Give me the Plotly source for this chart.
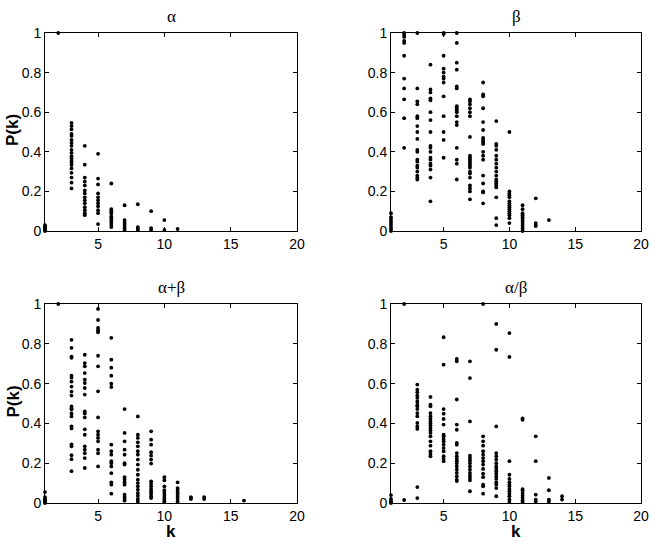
import plotly.graph_objects as go

# P(k) values, one list per k (k = 1, 2, 3, ...)
alpha = [
    [0, 0.005, 0.01, 0.015, 0.02, 0.025, 0.03],
    [1.0],
    [0.546, 0.53, 0.513, 0.49, 0.48, 0.46, 0.445, 0.43, 0.41, 0.395, 0.378, 0.366,
     0.355, 0.345, 0.333, 0.316, 0.294, 0.27, 0.244, 0.215],
    [0.43, 0.335, 0.27, 0.25, 0.23, 0.205, 0.19, 0.17, 0.155, 0.14, 0.12, 0.105, 0.09, 0.08],
    [0.39, 0.265, 0.235, 0.19, 0.17, 0.155, 0.14, 0.125, 0.105, 0.09, 0.035],
    [0.24, 0.11, 0.1, 0.09, 0.075, 0.065, 0.052, 0.042, 0.03, 0.02],
    [0.13, 0.055, 0.045, 0.035, 0.025, 0.015, 0.005],
    [0.135, 0.02, 0.01, 0.005],
    [0.1, 0.015, 0.005],
    [0.055, 0.005],
    [0.01],
]

beta = [
    [0.09, 0.07, 0.06, 0.05, 0.04, 0.03, 0.02, 0.01, 0],
    [1.0, 0.99, 0.98, 0.96, 0.95, 0.885, 0.77, 0.72, 0.665, 0.57, 0.42],
    [1.0, 0.72, 0.655, 0.64, 0.58, 0.57, 0.53, 0.5, 0.465, 0.41, 0.4, 0.36, 0.35,
     0.33, 0.32, 0.3, 0.28, 0.27, 0.26],
    [0.84, 0.715, 0.7, 0.67, 0.66, 0.6, 0.56, 0.5, 0.43, 0.42, 0.4, 0.37, 0.36,
     0.34, 0.33, 0.31, 0.27, 0.15],
    [1.0, 0.995, 0.885, 0.82, 0.8, 0.78, 0.77, 0.75, 0.68, 0.58, 0.5, 0.46, 0.37],
    [1.0, 0.95, 0.85, 0.815, 0.73, 0.72, 0.63, 0.62, 0.61, 0.6, 0.58, 0.55, 0.535,
     0.42, 0.36, 0.34, 0.26],
    [0.665, 0.655, 0.64, 0.62, 0.6, 0.58, 0.475, 0.38, 0.37, 0.36, 0.35, 0.34, 0.33,
     0.32, 0.3, 0.29, 0.27, 0.23, 0.215, 0.2, 0.16],
    [0.75, 0.69, 0.68, 0.62, 0.55, 0.51, 0.47, 0.46, 0.45, 0.44, 0.4, 0.38, 0.36,
     0.28, 0.24, 0.2, 0.195, 0.14],
    [0.555, 0.44, 0.43, 0.41, 0.38, 0.36, 0.34, 0.32, 0.3, 0.28, 0.26, 0.25, 0.24,
     0.23, 0.22, 0.17, 0.065, 0.03],
    [0.5, 0.2, 0.19, 0.18, 0.17, 0.15, 0.14, 0.13, 0.12, 0.11, 0.1, 0.09, 0.08, 0.065, 0.04],
    [0.13, 0.11, 0.09, 0.08, 0.07, 0.06, 0.05, 0.04, 0.03, 0.02, 0.01, 0],
    [0.165, 0.04, 0.03, 0.025],
    [0.055],
]

alpha_plus_beta = [
    [0.055, 0.03, 0.02, 0.015, 0.01, 0.005, 0],
    [1.0],
    [0.82, 0.78, 0.735, 0.73, 0.64, 0.63, 0.61, 0.585, 0.56, 0.54, 0.485, 0.475,
     0.47, 0.45, 0.435, 0.385, 0.375, 0.295, 0.285, 0.24, 0.22, 0.16],
    [0.745, 0.703, 0.687, 0.653, 0.62, 0.603, 0.578, 0.545, 0.46, 0.45, 0.43, 0.37,
     0.343, 0.285, 0.268, 0.25, 0.226, 0.176],
    [0.975, 0.92, 0.88, 0.868, 0.858, 0.74, 0.687, 0.561, 0.43, 0.36, 0.343, 0.327,
     0.31, 0.268, 0.25, 0.184],
    [0.83, 0.72, 0.68, 0.64, 0.6, 0.583, 0.293, 0.26, 0.243, 0.21, 0.2, 0.184, 0.15,
     0.104, 0.092, 0.047],
    [0.472, 0.352, 0.31, 0.268, 0.243, 0.2, 0.193, 0.13, 0.117, 0.104, 0.092, 0.042,
     0.03, 0.02, 0.012],
    [0.435, 0.343, 0.327, 0.305, 0.285, 0.26, 0.243, 0.218, 0.193, 0.167, 0.142,
     0.117, 0.1, 0.084, 0.067, 0.05, 0.037, 0.02, 0.008],
    [0.36, 0.318, 0.293, 0.255, 0.238, 0.218, 0.198, 0.109, 0.097, 0.084, 0.07,
     0.059, 0.047, 0.034, 0.025],
    [0.13, 0.114, 0.084, 0.065, 0.06, 0.05, 0.04, 0.03, 0.02, 0.01, 0.005],
    [0.104, 0.075, 0.067, 0.054, 0.042, 0.03, 0.02, 0.008],
    [0.03, 0.025, 0.02],
    [0.03, 0.02],
    [],
    [],
    [0.012],
]

alpha_over_beta = [
    [0.04, 0.02, 0.01, 0.005, 0],
    [1.0, 0.015],
    [0.595, 0.57, 0.556, 0.54, 0.528, 0.51, 0.494, 0.486, 0.472, 0.452, 0.436,
     0.402, 0.385, 0.372, 0.08, 0.025],
    [0.533, 0.494, 0.486, 0.452, 0.436, 0.422, 0.41, 0.399, 0.389, 0.377, 0.365,
     0.352, 0.335, 0.31, 0.288, 0.26, 0.248, 0.235],
    [0.833, 0.695, 0.472, 0.449, 0.422, 0.394, 0.343, 0.335, 0.322, 0.31, 0.293,
     0.276, 0.26, 0.235, 0.221, 0.21],
    [0.724, 0.712, 0.52, 0.394, 0.368, 0.302, 0.293, 0.251, 0.235, 0.221, 0.21,
     0.198, 0.184, 0.168, 0.151, 0.134, 0.117, 0.11],
    [0.712, 0.628, 0.41, 0.238, 0.226, 0.214, 0.2, 0.184, 0.168, 0.151, 0.137,
     0.126, 0.114, 0.059],
    [1.0, 0.335, 0.31, 0.288, 0.26, 0.243, 0.226, 0.21, 0.193, 0.171, 0.147, 0.13,
     0.092, 0.084, 0.047],
    [0.9, 0.77, 0.385, 0.251, 0.235, 0.218, 0.2, 0.184, 0.171, 0.159, 0.147, 0.134,
     0.121, 0.104, 0.092, 0.075, 0.034],
    [0.854, 0.734, 0.21, 0.142, 0.121, 0.104, 0.092, 0.084, 0.07, 0.059, 0.047,
     0.034, 0.017, 0.005],
    [0.425, 0.418, 0.07, 0.064, 0.05, 0.037, 0.025, 0.013, 0.005],
    [0.335, 0.21, 0.042, 0.017, 0.008],
    [0.126, 0.064, 0.017, 0.008],
    [0.034, 0.017],
]

panels = [
    ('α', alpha, 'x', 'y'),
    ('β', beta, 'x2', 'y2'),
    ('α+β', alpha_plus_beta, 'x3', 'y3'),
    ('α/β', alpha_over_beta, 'x4', 'y4'),
]

W, H = 654, 542
# plot boxes in pixels (left, right, top, bottom)
cols = [(45, 297), (391, 641)]
rows = [(33, 231), (304, 503)]


def px(x):
    return x / W


def py(y):
    return 1 - y / H


fig = go.Figure()

for i, (title, data, xa, ya) in enumerate(panels):
    xs, ys = [], []
    for k, vals in enumerate(data, start=1):
        xs += [k] * len(vals)
        ys += vals
    fig.add_trace(go.Scatter(
        x=xs, y=ys, mode='markers', xaxis=xa, yaxis=ya,
        marker=dict(size=3.8, color='black'),
        cliponaxis=False, showlegend=False,
    ))

axis_style = dict(
    showline=True, linecolor='black', linewidth=1, mirror='ticks',
    ticks='inside', ticklen=4, tickcolor='black', tickwidth=1,
    showgrid=False, zeroline=False, automargin=False,
    tickfont=dict(family='Liberation Sans, Arial', size=14, color='black'),
)

layout = dict(
    template=None,
    width=W, height=H,
    margin=dict(l=0, r=0, t=0, b=0, autoexpand=False),
    plot_bgcolor='white', paper_bgcolor='white',
    annotations=[],
)

for i in range(4):
    c = cols[i % 2]
    r = rows[i // 2]
    sx = '' if i == 0 else str(i + 1)
    layout['xaxis' + sx] = dict(
        axis_style, domain=[px(c[0]), px(c[1])], range=[1, 20],
        tickvals=[5, 10, 15, 20], anchor='y' + sx,
    )
    layout['yaxis' + sx] = dict(
        axis_style, domain=[py(r[1]), py(r[0])], range=[0, 1],
        tickvals=[0, 0.2, 0.4, 0.6, 0.8, 1], ticktext=['0', '0.2', '0.4', '0.6', '0.8', '1'],
        anchor='x' + sx,
    )
    cx = px((c[0] + c[1]) / 2)
    layout['annotations'].append(dict(
        text=panels[i][0], x=cx, y=py(r[0] - 17), xref='paper', yref='paper',
        showarrow=False, xanchor='center', yanchor='middle',
        font=dict(family='Liberation Serif, serif', size=17, color='black'),
    ))
    if i % 2 == 0:
        layout['annotations'].append(dict(
            text='<b>P(k)</b>', x=px(13), y=py((r[0] + r[1]) / 2 - 2),
            xref='paper', yref='paper', showarrow=False, textangle=-90,
            xanchor='center', yanchor='middle',
            font=dict(family='Liberation Sans, Arial', size=17, color='black'),
        ))
    if i >= 2:
        layout['annotations'].append(dict(
            text='<b>k</b>', x=cx, y=py(531), xref='paper', yref='paper',
            showarrow=False, xanchor='center', yanchor='middle',
            font=dict(family='Liberation Sans, Arial', size=17, color='black'),
        ))

fig.update_layout(layout)
# drop the default 8 px body margin so the figure fills the window exactly
fig.write_html('out.html', config={'displayModeBar': False},
               post_script="document.body.style.margin = '0';")
